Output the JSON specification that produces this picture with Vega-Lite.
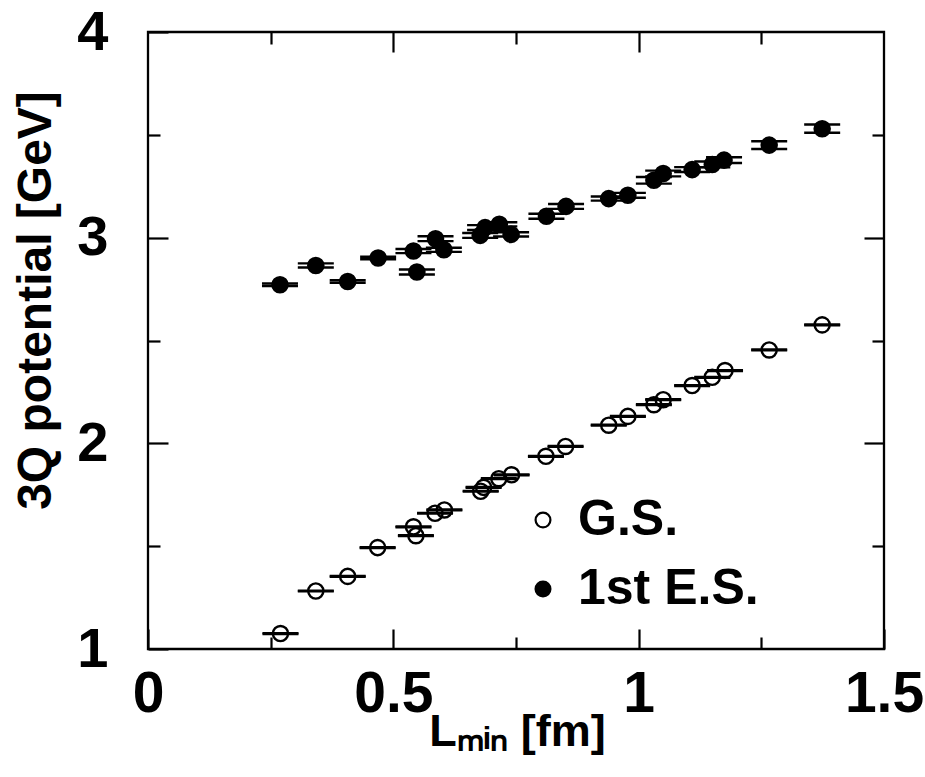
{
  "$schema": "https://vega.github.io/schema/vega-lite/v6.json",
  "autosize": {"type": "none"},
  "width": 736,
  "height": 617,
  "padding": {"left": 148, "top": 32, "right": 41, "bottom": 128},
  "background": "white",
  "config": {
    "view": {"stroke": "black", "strokeWidth": 2.3},
    "font": "Liberation Sans"
  },
  "data": {
    "values": [
      {"x": 0.270, "y": 1.075, "err": 0.002, "series": "G.S."},
      {"x": 0.342, "y": 1.282, "err": 0.002, "series": "G.S."},
      {"x": 0.407, "y": 1.353, "err": 0.002, "series": "G.S."},
      {"x": 0.468, "y": 1.493, "err": 0.002, "series": "G.S."},
      {"x": 0.541, "y": 1.594, "err": 0.002, "series": "G.S."},
      {"x": 0.546, "y": 1.551, "err": 0.002, "series": "G.S."},
      {"x": 0.585, "y": 1.660, "err": 0.002, "series": "G.S."},
      {"x": 0.604, "y": 1.676, "err": 0.002, "series": "G.S."},
      {"x": 0.678, "y": 1.767, "err": 0.002, "series": "G.S."},
      {"x": 0.684, "y": 1.786, "err": 0.002, "series": "G.S."},
      {"x": 0.715, "y": 1.828, "err": 0.002, "series": "G.S."},
      {"x": 0.741, "y": 1.847, "err": 0.002, "series": "G.S."},
      {"x": 0.811, "y": 1.937, "err": 0.002, "series": "G.S."},
      {"x": 0.851, "y": 1.985, "err": 0.002, "series": "G.S."},
      {"x": 0.939, "y": 2.088, "err": 0.002, "series": "G.S."},
      {"x": 0.978, "y": 2.131, "err": 0.002, "series": "G.S."},
      {"x": 1.031, "y": 2.188, "err": 0.002, "series": "G.S."},
      {"x": 1.050, "y": 2.212, "err": 0.002, "series": "G.S."},
      {"x": 1.109, "y": 2.281, "err": 0.002, "series": "G.S."},
      {"x": 1.150, "y": 2.321, "err": 0.002, "series": "G.S."},
      {"x": 1.176, "y": 2.354, "err": 0.002, "series": "G.S."},
      {"x": 1.266, "y": 2.454, "err": 0.002, "series": "G.S."},
      {"x": 1.374, "y": 2.576, "err": 0.002, "series": "G.S."},
      {"x": 0.269, "y": 2.771, "err": 0.006, "series": "1st E.S."},
      {"x": 0.342, "y": 2.865, "err": 0.010, "series": "1st E.S."},
      {"x": 0.407, "y": 2.787, "err": 0.006, "series": "1st E.S."},
      {"x": 0.469, "y": 2.901, "err": 0.006, "series": "1st E.S."},
      {"x": 0.541, "y": 2.935, "err": 0.010, "series": "1st E.S."},
      {"x": 0.548, "y": 2.833, "err": 0.012, "series": "1st E.S."},
      {"x": 0.586, "y": 2.995, "err": 0.012, "series": "1st E.S."},
      {"x": 0.603, "y": 2.941, "err": 0.010, "series": "1st E.S."},
      {"x": 0.677, "y": 3.011, "err": 0.012, "series": "1st E.S."},
      {"x": 0.687, "y": 3.049, "err": 0.012, "series": "1st E.S."},
      {"x": 0.716, "y": 3.065, "err": 0.010, "series": "1st E.S."},
      {"x": 0.740, "y": 3.016, "err": 0.010, "series": "1st E.S."},
      {"x": 0.812, "y": 3.104, "err": 0.012, "series": "1st E.S."},
      {"x": 0.852, "y": 3.152, "err": 0.012, "series": "1st E.S."},
      {"x": 0.939, "y": 3.190, "err": 0.010, "series": "1st E.S."},
      {"x": 0.978, "y": 3.206, "err": 0.012, "series": "1st E.S."},
      {"x": 1.031, "y": 3.279, "err": 0.016, "series": "1st E.S."},
      {"x": 1.050, "y": 3.312, "err": 0.014, "series": "1st E.S."},
      {"x": 1.109, "y": 3.331, "err": 0.012, "series": "1st E.S."},
      {"x": 1.150, "y": 3.356, "err": 0.014, "series": "1st E.S."},
      {"x": 1.174, "y": 3.377, "err": 0.014, "series": "1st E.S."},
      {"x": 1.266, "y": 3.450, "err": 0.019, "series": "1st E.S."},
      {"x": 1.374, "y": 3.530, "err": 0.020, "series": "1st E.S."}
    ]
  },
  "resolve": {"axis": {"x": "independent", "y": "independent"}},
  "layer": [
    {
      "mark": {"type": "errorbar", "color": "black", "thickness": 2.4, "opacity": 1,
        "rule": {"color": "black", "opacity": 1, "strokeWidth": 2.4},
        "ticks": {"size": 36, "thickness": 2.4, "color": "black", "opacity": 1}},
      "encoding": {
        "x": {"field": "x", "type": "quantitative", "scale": {"domain": [0, 1.5], "nice": false, "zero": false}, "axis": null},
        "y": {"field": "y", "type": "quantitative", "scale": {"domain": [1, 4], "nice": false, "zero": false}, "axis": null},
        "yError": {"field": "err"}
      }
    },
    {
      "mark": {"type": "point", "shape": "circle", "stroke": "black", "strokeWidth": 2.4, "size": 230, "opacity": 1},
      "encoding": {
        "x": {"field": "x", "type": "quantitative", "scale": {"domain": [0, 1.5], "nice": false, "zero": false},
          "axis": {"orient": "bottom", "values": [0, 0.5, 1, 1.5], "format": "~g", "domain": false, "grid": false,
            "tickSize": -20, "tickWidth": 2.2, "tickColor": "black",
            "labelFont": "Liberation Sans", "labelFontWeight": "bold", "labelFontSize": 57, "labelColor": "black",
            "labelPadding": 37, "labelFlush": false, "labelOverlap": false, "labelBound": false,
            "title": "Lₘᵢₙ [fm]", "titleFont": "Liberation Sans", "titleFontWeight": "bold", "titleFontSize": 45, "titleColor": "black",
            "titleX": 369, "titleY": 96, "titleBaseline": "alphabetic", "titleAlign": "center"}},
        "y": {"field": "y", "type": "quantitative", "scale": {"domain": [1, 4], "nice": false, "zero": false},
          "axis": {"orient": "left", "values": [1, 2, 3, 4], "format": "~g", "domain": false, "grid": false,
            "tickSize": -20, "tickWidth": 2.2, "tickColor": "black",
            "labelFont": "Liberation Sans", "labelFontWeight": "bold", "labelFontSize": 56, "labelColor": "black",
            "labelPadding": 60, "labelFlush": false, "labelOverlap": false, "labelBound": false,
            "title": "3Q potential [GeV]", "titleFont": "Liberation Sans", "titleFontWeight": "bold", "titleFontSize": 48, "titleColor": "black",
            "titleX": -112, "titleY": 268, "titleAngle": 270, "titleBaseline": "middle", "titleAlign": "center"}},
        "fill": {"field": "series", "type": "nominal",
          "scale": {"domain": ["G.S.", "1st E.S."], "range": ["transparent", "black"]},
          "legend": {"title": null, "orient": "none", "legendX": 370, "legendY": 463, "padding": 0,
            "symbolType": "circle", "symbolSize": 220, "symbolStrokeColor": "black", "symbolStrokeWidth": 2.2,
            "labelFont": "Liberation Sans", "labelFontWeight": "bold", "labelFontSize": 50, "labelColor": "black",
            "labelOffset": 10, "rowPadding": 19, "labelLimit": 400}}
      }
    },
    {
      "mark": {"type": "point", "opacity": 0},
      "encoding": {
        "x": {"field": "x", "type": "quantitative", "scale": {"domain": [0, 1.5], "nice": false, "zero": false},
          "axis": {"orient": "bottom", "values": [0.25, 0.75, 1.25], "domain": false, "grid": false, "labels": false, "title": null,
            "tickSize": -12, "tickWidth": 2.2, "tickColor": "black"}},
        "y": {"field": "y", "type": "quantitative", "scale": {"domain": [1, 4], "nice": false, "zero": false},
          "axis": {"orient": "left", "values": [1.5, 2.5, 3.5], "domain": false, "grid": false, "labels": false, "title": null,
            "tickSize": -12, "tickWidth": 2.2, "tickColor": "black"}}
      }
    },
    {
      "mark": {"type": "point", "opacity": 0},
      "encoding": {
        "x": {"field": "x", "type": "quantitative", "scale": {"domain": [0, 1.5], "nice": false, "zero": false},
          "axis": {"orient": "top", "values": [0.5, 1], "domain": false, "grid": false, "labels": false, "title": null,
            "tickSize": -20, "tickWidth": 2.2, "tickColor": "black"}},
        "y": {"field": "y", "type": "quantitative", "scale": {"domain": [1, 4], "nice": false, "zero": false},
          "axis": {"orient": "right", "values": [2, 3], "domain": false, "grid": false, "labels": false, "title": null,
            "tickSize": -20, "tickWidth": 2.2, "tickColor": "black"}}
      }
    },
    {
      "mark": {"type": "point", "opacity": 0},
      "encoding": {
        "x": {"field": "x", "type": "quantitative", "scale": {"domain": [0, 1.5], "nice": false, "zero": false},
          "axis": {"orient": "top", "values": [0.25, 0.75, 1.25], "domain": false, "grid": false, "labels": false, "title": null,
            "tickSize": -12, "tickWidth": 2.2, "tickColor": "black"}},
        "y": {"field": "y", "type": "quantitative", "scale": {"domain": [1, 4], "nice": false, "zero": false},
          "axis": {"orient": "right", "values": [1.5, 2.5, 3.5], "domain": false, "grid": false, "labels": false, "title": null,
            "tickSize": -12, "tickWidth": 2.2, "tickColor": "black"}}
      }
    }
  ]
}
